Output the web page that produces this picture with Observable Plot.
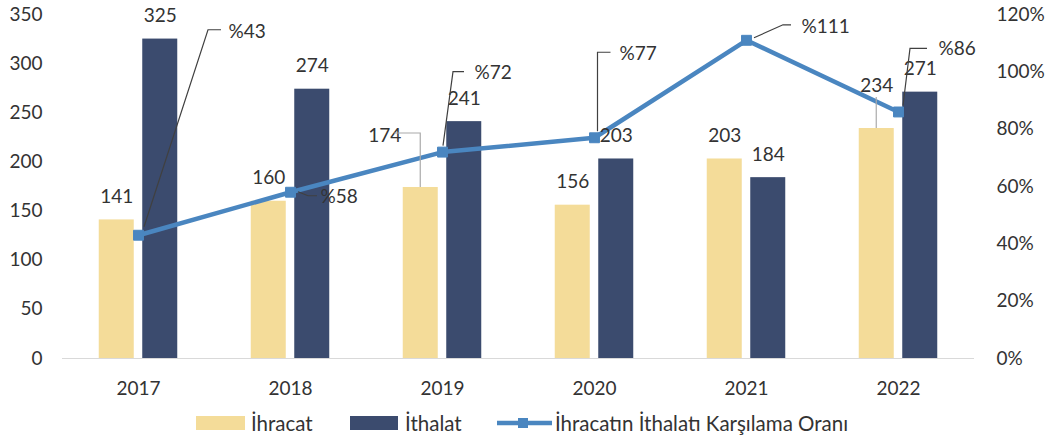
<!DOCTYPE html>
<html>
<head>
<meta charset="utf-8">
<script src="https://cdn.jsdelivr.net/npm/d3@7"></script>
<script src="https://cdn.jsdelivr.net/npm/@observablehq/plot@0.6"></script>
<style>
  html, body { margin: 0; padding: 0; background: #fff; }
  #wrap { width: 1054px; height: 441px; position: relative; font-family: Lato, "Open Sans", sans-serif; color: #333; }
  #legend { position: relative; height: 37px; font-size: 20.5px; }
  #legend .sw { position: absolute; top: 12px; height: 14px; }
  #legend .lbl { position: absolute; top: 0; line-height: 38px; white-space: nowrap; }
</style>
</head>
<body>
<div id="wrap">
  <div id="chart"></div>
  <div id="legend"></div>
</div>
<script>
// ---- data ----
const years = ["2017", "2018", "2019", "2020", "2021", "2022"];
const ihracat = [141, 160, 174, 156, 203, 234];
const ithalat = [325, 274, 241, 203, 184, 271];
const oran = [43, 58, 72, 77, 111, 86];
const leftTicks = [0, 50, 100, 150, 200, 250, 300, 350];
const rightTicks = [0, 20, 40, 60, 80, 100, 120];
const seriesNames = ["İhracat", "İthalat", "İhracatın İthalatı Karşılama Oranı"];

// ---- style / layout ----
const W = 1054, H = 404;
const mL = 62, mR = 80, mT = 14, mB = 46;
const yMax = 350, rMax = 120;
const cExp = "#F4DC99", cImp = "#3B4B6E", cLine = "#4A86C0", cText = "#333";
const barW = 35, barOff = 21.75;
const step = (W - mL - mR) / years.length;
const toY = r => r * yMax / rMax;

// label offsets (pixels) relative to anchor; leaders as pixel polylines relative to anchor
const expLayout = [
  {dx: 0, dy: -23}, {dx: 0, dy: -23},
  {dx: -36, dy: -52, leader: [[-26, -54], [0, -54], [0, 0]]},
  {dx: 0, dy: -23}, {dx: 0, dy: -23},
  {dx: 0, dy: -43, leader: [[0, -31], [0, 0]]}
];
const impLayout = years.map(() => ({dx: 0, dy: -23}));
const oranLayout = [
  {dx: 90, dy: -203, leader: [[6, -8], [70, -205], [83, -205]]},
  {dx: 30, dy: 5, leader: [[8, 0], [18, 4], [27, 4]]},
  {dx: 32, dy: -79, leader: [[1, -6], [11, -80], [22, -80]]},
  {dx: 25, dy: -84, leader: [[3.5, -6], [3.5, -85], [16.5, -85]]},
  {dx: 55, dy: -13, leader: [[8, -2], [37, -15], [45, -15]]},
  {dx: 40, dy: -63, leader: [[5, -6], [12, -63], [29, -63]]}
];

const expData = years.map((y, i) => ({year: y, v: ihracat[i]}));
const impData = years.map((y, i) => ({year: y, v: ithalat[i]}));
const oranData = years.map((y, i) => ({year: y, r: oran[i]}));

const half = step / 2;
const marks = [
  Plot.ruleY([0], {stroke: "#d9d9d9", strokeWidth: 1.2}),
  Plot.barY(expData, {x: "year", y: "v", fill: cExp,
    insetLeft: half - barOff - barW / 2, insetRight: half + barOff - barW / 2}),
  Plot.barY(impData, {x: "year", y: "v", fill: cImp,
    insetLeft: half + barOff - barW / 2, insetRight: half - barOff - barW / 2}),
  Plot.axisY({anchor: "left", ticks: leftTicks, tickSize: 0, tickPadding: 20, label: null, fontSize: 19}),
  Plot.axisY({anchor: "right", ticks: rightTicks.map(toY), tickFormat: d => Math.round(d * rMax / yMax) + "%",
    tickSize: 0, tickPadding: 22, label: null, fontSize: 19}),
  Plot.axisX({tickSize: 0, tickPadding: 23, label: null, fontSize: 19}),
  Plot.line(oranData, {x: "year", y: d => toY(d.r), stroke: cLine, strokeWidth: 4.5}),
  Plot.dot(oranData, {x: "year", y: d => toY(d.r), symbol: "square", r: 5.6, fill: cLine, stroke: cLine, strokeWidth: 1})
];
// value labels
expData.forEach((d, i) => marks.push(Plot.text([d], {x: "year", y: "v", text: d => String(d.v),
  dx: -barOff + expLayout[i].dx, dy: expLayout[i].dy, fill: cText, fontSize: 19})));
impData.forEach((d, i) => marks.push(Plot.text([d], {x: "year", y: "v", text: d => String(d.v),
  dx: barOff + impLayout[i].dx, dy: impLayout[i].dy, fill: cText, fontSize: 19})));
oranData.forEach((d, i) => marks.push(Plot.text([d], {x: "year", y: d => toY(d.r), text: d => "%" + d.r,
  textAnchor: "start", dx: oranLayout[i].dx, dy: oranLayout[i].dy, fill: cText, fontSize: 19})));

const chart = Plot.plot({
  width: W, height: H,
  marginLeft: mL, marginRight: mR, marginTop: mT, marginBottom: mB,
  style: {fontFamily: "Lato, 'Open Sans', sans-serif", color: cText, background: "#fff", overflow: "visible"},
  x: {type: "band", domain: years, padding: 0},
  y: {domain: [0, yMax]},
  marks
});
document.getElementById("chart").appendChild(chart);

// leader lines drawn with Plot's own scales
const xs = chart.scale("x"), ys = chart.scale("y");
const xApply = xs.apply ? xs.apply : d3.scaleBand(xs.domain, xs.range).paddingInner(0).paddingOuter(0);
const yApply = ys.apply ? ys.apply : d3.scaleLinear(ys.domain, ys.range);
const bw = xs.bandwidth != null ? xs.bandwidth : step;
const cx = y => xApply(y) + bw / 2;
const svg = d3.select(chart);
const g = svg.append("g").attr("fill", "none");
function leader(ax, ay, pts, color) {
  g.append("path").attr("stroke", color).attr("stroke-width", 1.2)
    .attr("d", d3.line()(pts.map(p => [ax + p[0], ay + p[1]])));
}
expData.forEach((d, i) => { if (expLayout[i].leader) leader(cx(d.year) - barOff, yApply(d.v), expLayout[i].leader, "#aaa"); });
oranData.forEach((d, i) => { if (oranLayout[i].leader) leader(cx(d.year), yApply(toY(d.r)), oranLayout[i].leader, "#404040"); });

// legend
const lg = d3.select("#legend");
lg.append("div").attr("class", "sw").style("left", "196px").style("width", "49px").style("background", cExp);
lg.append("div").attr("class", "lbl").style("left", "251px").text(seriesNames[0]);
lg.append("div").attr("class", "sw").style("left", "350px").style("width", "48px").style("background", cImp);
lg.append("div").attr("class", "lbl").style("left", "405px").text(seriesNames[1]);
const ls = lg.append("svg").attr("width", 60).attr("height", 37).style("position", "absolute").style("left", "494px").style("top", "0px");
ls.append("line").attr("x1", 3).attr("x2", 58).attr("y1", 19).attr("y2", 19).attr("stroke", cLine).attr("stroke-width", 4.5);
ls.append("rect").attr("x", 24).attr("y", 14).attr("width", 10).attr("height", 10).attr("fill", cLine);
lg.append("div").attr("class", "lbl").style("left", "555px").text(seriesNames[2]);
</script>
</body>
</html>
